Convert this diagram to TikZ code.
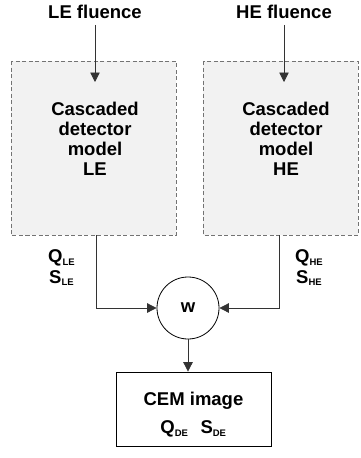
\documentclass[tikz,border=0pt]{standalone}
\usepackage{fontspec}
\setmainfont{Liberation Sans}[BoldFont={Liberation Sans Bold}]
\newfontfamily\lbf{Liberation Sans Bold}
\usetikzlibrary{arrows.meta}
\newcommand{\sbx}[1]{\textsubscript{\fontsize{9.5}{9.5}\selectfont #1}}
\begin{document}
\begin{tikzpicture}[x=1pt,y=-1pt,
  lbl/.style={font=\fontsize{18.5}{20}\selectfont\lbf, inner sep=0pt, align=center},
  model/.style={draw=black!55, dash pattern=on 4pt off 2.5pt, fill=black!5, line width=0.7pt},
  conn/.style={draw=black!80, line width=0.8pt, -{Triangle[length=9.5pt,width=9.5pt]}},
  plain/.style={draw=black!80, line width=0.8pt}]
\useasboundingbox (0,0) rectangle (361,458);
% model boxes
\draw[model] (11,61) rectangle (176,235);
\draw[model] (203,61) rectangle (358,235);
\node[lbl] (le) at (95,12) {LE fluence};
\node[lbl] (he) at (284,12) {HE fluence};
\coordinate (leIn) at (95,82);
\coordinate (heIn) at (284,82);
\draw[conn] (le.south) ++(0,6) coordinate (leS) -- (leIn);
\draw[conn] (he.south) ++(0,6) coordinate (heS) -- (heIn);
\node[lbl] (lemodel) at (95,139) {Cascaded\\detector\\model\\LE};
\node[lbl] (hemodel) at (286,139) {Cascaded\\detector\\model\\HE};
% outputs
\coordinate (leOut) at (96,235);
\coordinate (heOut) at (279,235);
\node[draw=black, circle, minimum size=62pt, inner sep=0pt, line width=0.8pt, font=\fontsize{18.5}{20}\selectfont\lbf] (w) at (188,308) {w};
\draw[conn] (leOut) |- (w.west);
\draw[conn] (heOut) |- (w.east);
\node[lbl, anchor=west] (qle) at (48,258) {Q\sbx{LE}};
\node[lbl, anchor=west] (sle) at (49,278) {S\sbx{LE}};
\node[lbl, anchor=west] (qhe) at (295,258) {Q\sbx{HE}};
\node[lbl, anchor=west] (she) at (296,278) {S\sbx{HE}};
% CEM box
\node[draw=black, line width=0.8pt, minimum width=155pt, minimum height=74pt, inner sep=0pt] (cem) at (193.5,409) {};
\node[lbl] (cemt) at (193.5,401) {CEM image};
\node[lbl] (qde) at (193.5,429) {Q\sbx{DE}\hspace{12pt}S\sbx{DE}};
\draw[conn] (w.south) -- (w.south |- cem.north);
\end{tikzpicture}
\end{document}
